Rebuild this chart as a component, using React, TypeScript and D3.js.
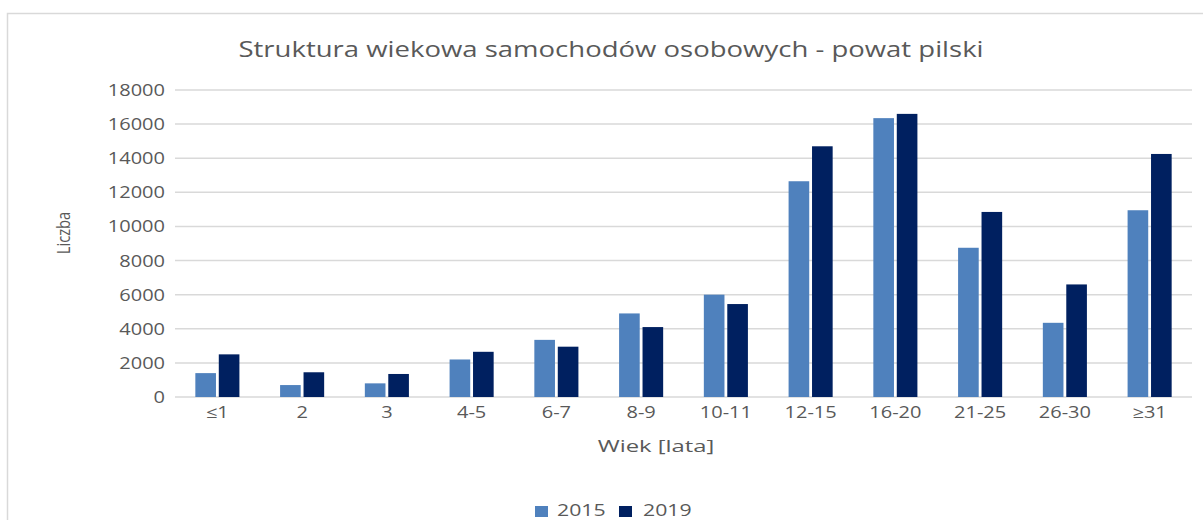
import React from 'react'
import * as d3 from 'd3'

const categories = ['≤1', '2', '3', '4-5', '6-7', '8-9', '10-11', '12-15', '16-20', '21-25', '26-30', '≥31']
const values2015 = [1400, 700, 800, 2200, 3350, 4900, 6000, 12650, 16350, 8750, 4350, 10950]
const values2019 = [2500, 1450, 1350, 2650, 2950, 4100, 5450, 14700, 16600, 10850, 6600, 14250]
const seriesNames = ['2015', '2019']
const yTicks = [0, 2000, 4000, 6000, 8000, 10000, 12000, 14000, 16000, 18000]

const W = 1203
const H = 520
const colors = ['#4F81BD', '#002060']
const textColor = '#595959'
const gridColor = '#D9D9D9'
const font = '"Open Sans", sans-serif'

// the reference text looks stretched wide, so scale glyphs horizontally
function Txt({x, y, size, anchor = 'middle', children, sx = 1.25, along = 1, vertical = false}: any) {
    const tf = vertical
        ? `translate(${x},${y}) rotate(-90) scale(${along},${sx})`
        : `translate(${x},${y}) scale(${sx},1)`
    return (
        <text transform={tf} fontSize={size} fill={textColor} fontFamily={font} textAnchor={anchor}>
            {children}
        </text>
    )
}

export default function App() {
    const margin = {top: 90, right: W - 1192, bottom: H - 397, left: 175}

    const x0 = d3.scaleBand()
        .domain(categories)
        .range([margin.left, W - margin.right])
        .paddingInner(0.48)
        .paddingOuter(0.24)

    const x1 = d3.scaleBand()
        .domain(seriesNames)
        .range([0, x0.bandwidth()])
        .paddingInner(0.12)

    const y = d3.scaleLinear()
        .domain([0, 18000])
        .range([H - margin.bottom, margin.top])

    const series = [values2015, values2019]

    return (
        <svg width={W} height={H} style={{position: 'absolute', left: 0, top: 0, background: '#fff'}}>
            <rect x={7.5} y={13.5} width={1300} height={600} fill="#fff" stroke={gridColor} strokeWidth={1.5} />

            <Txt x={611} y={57} size={21} sx={1.31}>Struktura wiekowa samochodów osobowych - powat pilski</Txt>

            {yTicks.map(t => (
                <g key={t}>
                    <line x1={margin.left} x2={W - margin.right} y1={y(t)} y2={y(t)} stroke={gridColor} strokeWidth={1.5} />
                    <Txt x={165} y={y(t) + 6} size={16} anchor="end">{t}</Txt>
                </g>
            ))}

            {series.map((vals, si) => (
                <g key={si} fill={colors[si]}>
                    {vals.map((v, i) => (
                        <rect key={i}
                            x={(x0(categories[i]) as number) + (x1(seriesNames[si]) as number)}
                            y={y(v)}
                            width={x1.bandwidth()}
                            height={y(0) - y(v)} />
                    ))}
                </g>
            ))}

            {categories.map(c => (
                <Txt key={c} x={(x0(c) as number) + x0.bandwidth() / 2} y={418} size={16}>{c}</Txt>
            ))}

            <Txt x={70} y={233} size={16} sx={1.15} along={0.92} vertical>Liczba</Txt>
            <Txt x={656} y={452} size={17} sx={1.4}>Wiek [lata]</Txt>

            {seriesNames.map((s, i) => (
                <g key={s}>
                    <rect x={535 + i * 84} y={506} width={13} height={11} fill={colors[i]} />
                    <Txt x={557 + i * 86} y={516} size={17} anchor="start">{s}</Txt>
                </g>
            ))}
        </svg>
    )
}
